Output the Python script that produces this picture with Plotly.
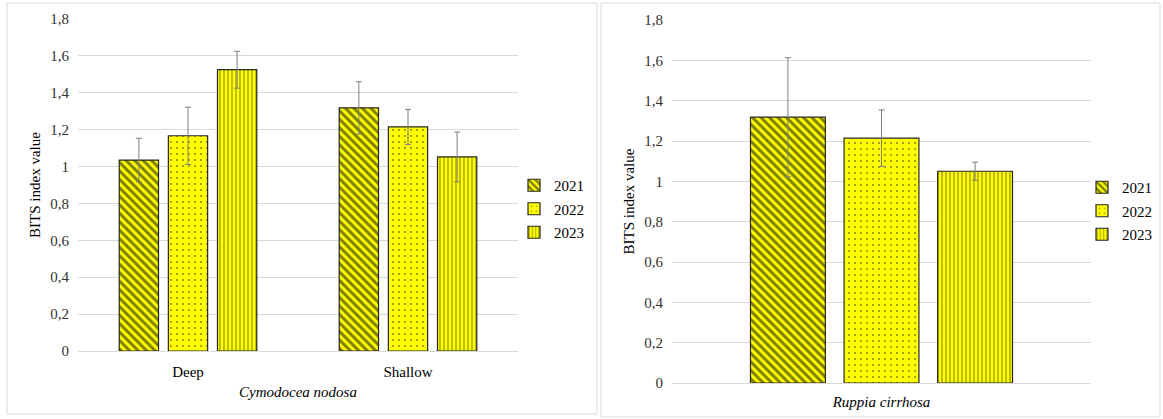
import plotly.graph_objects as go

years = ["2021", "2022", "2023"]
left_categories = ["Deep", "Shallow"]
left_values = {
    "2021": [1.035, 1.318],
    "2022": [1.167, 1.215],
    "2023": [1.525, 1.052],
}
left_errors = {
    "2021": [0.118, 0.142],
    "2022": [0.155, 0.095],
    "2023": [0.100, 0.135],
}
right_categories = ["Ruppia cirrhosa"]
right_values = {"2021": [1.318], "2022": [1.214], "2023": [1.050]}
right_errors = {"2021": [0.295], "2022": [0.140], "2023": [0.045]}

patterns = {
    "2021": dict(shape="\\", size=6, solidity=0.5, fgcolor="black"),
    "2022": dict(shape=".", size=6, solidity=0.08, fgcolor="black"),
    "2023": dict(shape="|", size=4, solidity=0.3, fgcolor="#262626"),
}

FONT = "Liberation Serif, Times New Roman, serif"
FS = 15
fig = go.Figure()

for y in years:
    fig.add_trace(go.Bar(
        x=left_categories, y=left_values[y], name=y,
        marker=dict(color="#FFFF00", line=dict(color="#262626", width=1.2), pattern=patterns[y]),
        error_y=dict(type="data", array=left_errors[y], color="#7f7f7f", thickness=1, width=3),
        xaxis="x", yaxis="y", legend="legend", legendgroup="L" + y,
    ))
for y in years:
    fig.add_trace(go.Bar(
        x=right_categories, y=right_values[y], name=y,
        marker=dict(color="#FFFF00", line=dict(color="#262626", width=1.2), pattern=patterns[y]),
        error_y=dict(type="data", array=right_errors[y], color="#7f7f7f", thickness=1, width=3),
        xaxis="x2", yaxis="y2", legend="legend2", legendgroup="R" + y,
    ))

W, H = 1163, 419
def px(v): return v / W
def py(v): return 1 - v / H

grid = "#d9d9d9"
yax = dict(range=[0, 1.8], dtick=0.2, showgrid=True, gridcolor=grid, gridwidth=1,
           zeroline=False, showline=False, ticks="", ticklabelstandoff=8, automargin=False,
           tickfont=dict(size=FS, color="#333333"),
           title=dict(text="BITS index value", font=dict(size=FS, color="#000"), standoff=6))
fig.update_layout(
    width=W, height=H, autosize=False, margin=dict(l=0, r=0, t=0, b=0, autoexpand=False),
    paper_bgcolor="white", plot_bgcolor="white",
    font=dict(family=FONT, size=FS, color="#000"),
    separators=", ",
    barmode="group", bargap=0.33, bargroupgap=0.2,
    xaxis=dict(domain=[px(78), px(518)], anchor="y", showline=True, linecolor=grid, ticks="",
               automargin=False, ticklabelstandoff=7, tickfont=dict(size=FS, color="#000"),
               title=dict(text="<i>Cymodocea nodosa</i>", font=dict(size=FS), standoff=7)),
    yaxis=dict(domain=[py(351), py(19)], anchor="x", **yax),
    xaxis2=dict(domain=[px(672), px(1091)], anchor="y2", showline=True, linecolor=grid, ticks="",
                showticklabels=False, automargin=False,
                title=dict(text="<i>Ruppia cirrhosa</i>", font=dict(size=FS), standoff=13)),
    yaxis2=dict(domain=[py(383), py(20)], anchor="x2", **yax),
    legend=dict(x=px(514), y=py(209), xanchor="left", yanchor="middle", font=dict(size=FS),
                tracegroupgap=1, itemwidth=30, bgcolor="rgba(0,0,0,0)"),
    legend2=dict(x=px(1082), y=py(211), xanchor="left", yanchor="middle", font=dict(size=FS),
                 tracegroupgap=1, itemwidth=30, bgcolor="rgba(0,0,0,0)"),
    showlegend=True,
    shapes=[
        dict(type="rect", xref="paper", yref="paper", x0=px(7), x1=px(597), y0=py(414), y1=py(3),
             line=dict(color=grid, width=1), fillcolor="rgba(0,0,0,0)"),
        dict(type="rect", xref="paper", yref="paper", x0=px(601), x1=px(1160), y0=py(417), y1=py(3),
             line=dict(color=grid, width=1), fillcolor="rgba(0,0,0,0)"),
    ],
)

fig.write_html(
    "out.html",
    config={"displayModeBar": False},
    post_script=(
        "document.documentElement.style.margin='0';document.body.style.margin='0';"
        "document.documentElement.style.overflow='hidden';document.body.style.overflow='hidden';"
        "var d=document.getElementById('{plot_id}');d.style.position='fixed';d.style.top='0px';d.style.left='0px';"
    ),
)
